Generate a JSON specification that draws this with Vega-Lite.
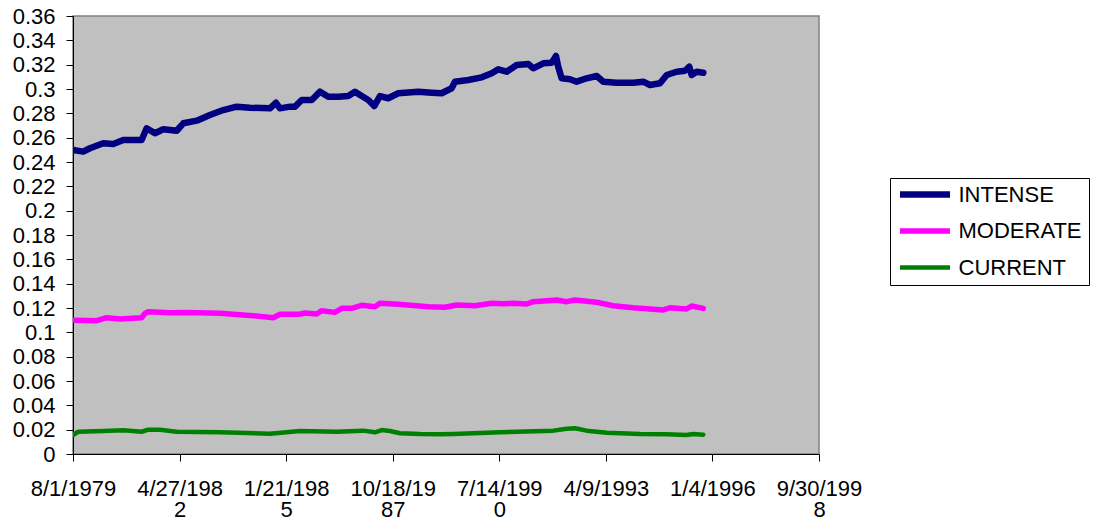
{
  "$schema": "https://vega.github.io/schema/vega-lite/v6.json",
  "autosize": "none",
  "width": 746,
  "height": 438,
  "padding": {"left": 73, "top": 16, "right": 278, "bottom": 75},
  "background": "white",
  "config": {
    "font": "Liberation Sans",
    "view": {"fill": "#C0C0C0", "stroke": "#808080", "strokeWidth": 1.5},
    "axis": {
      "domainColor": "black", "tickColor": "black", "labelColor": "black",
      "labelFont": "Liberation Sans", "labelFontSize": 22, "tickSize": 7,
      "grid": false, "title": null, "domainWidth": 1, "tickWidth": 1
    }
  },
  "data": {"values": [
    {"date": "1979-08-01", "value": 0.250, "series": "INTENSE"},
    {"date": "1979-11-05", "value": 0.2485, "series": "INTENSE"},
    {"date": "1980-01-07", "value": 0.2513, "series": "INTENSE"},
    {"date": "1980-05-11", "value": 0.2554, "series": "INTENSE"},
    {"date": "1980-08-13", "value": 0.2548, "series": "INTENSE"},
    {"date": "1980-11-15", "value": 0.2581, "series": "INTENSE"},
    {"date": "1981-03-20", "value": 0.2581, "series": "INTENSE"},
    {"date": "1981-05-06", "value": 0.2581, "series": "INTENSE"},
    {"date": "1981-06-22", "value": 0.2677, "series": "INTENSE"},
    {"date": "1981-09-08", "value": 0.2636, "series": "INTENSE"},
    {"date": "1981-11-25", "value": 0.2669, "series": "INTENSE"},
    {"date": "1982-03-31", "value": 0.2657, "series": "INTENSE"},
    {"date": "1982-06-01", "value": 0.2718, "series": "INTENSE"},
    {"date": "1982-10-05", "value": 0.2740, "series": "INTENSE"},
    {"date": "1983-02-06", "value": 0.2786, "series": "INTENSE"},
    {"date": "1983-06-11", "value": 0.2827, "series": "INTENSE"},
    {"date": "1983-10-15", "value": 0.2855, "series": "INTENSE"},
    {"date": "1984-02-17", "value": 0.2846, "series": "INTENSE"},
    {"date": "1984-08-22", "value": 0.2841, "series": "INTENSE"},
    {"date": "1984-10-18", "value": 0.2887, "series": "INTENSE"},
    {"date": "1984-11-24", "value": 0.2841, "series": "INTENSE"},
    {"date": "1985-02-26", "value": 0.2855, "series": "INTENSE"},
    {"date": "1985-04-14", "value": 0.2855, "series": "INTENSE"},
    {"date": "1985-06-16", "value": 0.2910, "series": "INTENSE"},
    {"date": "1985-09-18", "value": 0.2910, "series": "INTENSE"},
    {"date": "1985-12-05", "value": 0.2978, "series": "INTENSE"},
    {"date": "1986-02-20", "value": 0.2937, "series": "INTENSE"},
    {"date": "1986-05-25", "value": 0.2937, "series": "INTENSE"},
    {"date": "1986-08-27", "value": 0.2942, "series": "INTENSE"},
    {"date": "1986-10-29", "value": 0.2978, "series": "INTENSE"},
    {"date": "1986-12-31", "value": 0.2942, "series": "INTENSE"},
    {"date": "1987-03-03", "value": 0.2910, "series": "INTENSE"},
    {"date": "1987-04-28", "value": 0.2860, "series": "INTENSE"},
    {"date": "1987-06-20", "value": 0.2942, "series": "INTENSE"},
    {"date": "1987-09-06", "value": 0.2924, "series": "INTENSE"},
    {"date": "1987-12-09", "value": 0.2965, "series": "INTENSE"},
    {"date": "1988-06-14", "value": 0.2978, "series": "INTENSE"},
    {"date": "1988-10-18", "value": 0.2970, "series": "INTENSE"},
    {"date": "1989-01-19", "value": 0.2965, "series": "INTENSE"},
    {"date": "1989-04-23", "value": 0.3006, "series": "INTENSE"},
    {"date": "1989-05-24", "value": 0.3060, "series": "INTENSE"},
    {"date": "1989-09-26", "value": 0.3074, "series": "INTENSE"},
    {"date": "1990-01-30", "value": 0.3096, "series": "INTENSE"},
    {"date": "1990-05-04", "value": 0.3129, "series": "INTENSE"},
    {"date": "1990-07-05", "value": 0.3162, "series": "INTENSE"},
    {"date": "1990-09-21", "value": 0.3142, "series": "INTENSE"},
    {"date": "1990-12-24", "value": 0.3197, "series": "INTENSE"},
    {"date": "1991-04-12", "value": 0.3205, "series": "INTENSE"},
    {"date": "1991-05-29", "value": 0.3170, "series": "INTENSE"},
    {"date": "1991-08-31", "value": 0.3211, "series": "INTENSE"},
    {"date": "1991-11-18", "value": 0.3216, "series": "INTENSE"},
    {"date": "1991-12-28", "value": 0.3271, "series": "INTENSE"},
    {"date": "1992-01-18", "value": 0.3183, "series": "INTENSE"},
    {"date": "1992-02-19", "value": 0.3088, "series": "INTENSE"},
    {"date": "1992-05-08", "value": 0.3080, "series": "INTENSE"},
    {"date": "1992-07-09", "value": 0.3060, "series": "INTENSE"},
    {"date": "1992-10-11", "value": 0.3088, "series": "INTENSE"},
    {"date": "1993-01-13", "value": 0.3107, "series": "INTENSE"},
    {"date": "1993-03-16", "value": 0.3060, "series": "INTENSE"},
    {"date": "1993-07-20", "value": 0.3052, "series": "INTENSE"},
    {"date": "1993-12-22", "value": 0.3052, "series": "INTENSE"},
    {"date": "1994-03-26", "value": 0.3060, "series": "INTENSE"},
    {"date": "1994-05-28", "value": 0.3033, "series": "INTENSE"},
    {"date": "1994-08-30", "value": 0.3047, "series": "INTENSE"},
    {"date": "1994-11-01", "value": 0.3115, "series": "INTENSE"},
    {"date": "1995-02-03", "value": 0.3142, "series": "INTENSE"},
    {"date": "1995-04-22", "value": 0.3150, "series": "INTENSE"},
    {"date": "1995-06-01", "value": 0.3183, "series": "INTENSE"},
    {"date": "1995-06-23", "value": 0.3115, "series": "INTENSE"},
    {"date": "1995-08-09", "value": 0.3142, "series": "INTENSE"},
    {"date": "1995-10-10", "value": 0.3134, "series": "INTENSE"},

    {"date": "1979-08-01", "value": 0.1100, "series": "MODERATE"},
    {"date": "1980-03-10", "value": 0.1096, "series": "MODERATE"},
    {"date": "1980-06-12", "value": 0.1120, "series": "MODERATE"},
    {"date": "1980-10-15", "value": 0.1110, "series": "MODERATE"},
    {"date": "1981-05-06", "value": 0.1120, "series": "MODERATE"},
    {"date": "1981-06-06", "value": 0.1156, "series": "MODERATE"},
    {"date": "1981-07-07", "value": 0.1170, "series": "MODERATE"},
    {"date": "1982-01-27", "value": 0.1161, "series": "MODERATE"},
    {"date": "1982-07-03", "value": 0.1164, "series": "MODERATE"},
    {"date": "1983-05-11", "value": 0.1156, "series": "MODERATE"},
    {"date": "1984-03-19", "value": 0.1137, "series": "MODERATE"},
    {"date": "1984-09-22", "value": 0.1120, "series": "MODERATE"},
    {"date": "1984-11-24", "value": 0.1148, "series": "MODERATE"},
    {"date": "1985-05-15", "value": 0.1148, "series": "MODERATE"},
    {"date": "1985-07-17", "value": 0.1159, "series": "MODERATE"},
    {"date": "1985-11-04", "value": 0.1151, "series": "MODERATE"},
    {"date": "1985-12-20", "value": 0.1178, "series": "MODERATE"},
    {"date": "1986-04-24", "value": 0.1164, "series": "MODERATE"},
    {"date": "1986-06-26", "value": 0.1197, "series": "MODERATE"},
    {"date": "1986-09-28", "value": 0.1197, "series": "MODERATE"},
    {"date": "1986-12-31", "value": 0.1222, "series": "MODERATE"},
    {"date": "1987-05-05", "value": 0.1211, "series": "MODERATE"},
    {"date": "1987-06-20", "value": 0.1239, "series": "MODERATE"},
    {"date": "1987-12-09", "value": 0.1230, "series": "MODERATE"},
    {"date": "1988-09-16", "value": 0.1211, "series": "MODERATE"},
    {"date": "1989-02-19", "value": 0.1206, "series": "MODERATE"},
    {"date": "1989-06-09", "value": 0.1225, "series": "MODERATE"},
    {"date": "1989-11-28", "value": 0.1219, "series": "MODERATE"},
    {"date": "1990-05-04", "value": 0.1239, "series": "MODERATE"},
    {"date": "1990-08-20", "value": 0.1235, "series": "MODERATE"},
    {"date": "1990-11-22", "value": 0.1239, "series": "MODERATE"},
    {"date": "1991-03-28", "value": 0.1233, "series": "MODERATE"},
    {"date": "1991-05-29", "value": 0.1252, "series": "MODERATE"},
    {"date": "1992-01-03", "value": 0.1266, "series": "MODERATE"},
    {"date": "1992-04-06", "value": 0.1252, "series": "MODERATE"},
    {"date": "1992-06-23", "value": 0.1266, "series": "MODERATE"},
    {"date": "1993-01-13", "value": 0.1247, "series": "MODERATE"},
    {"date": "1993-06-18", "value": 0.1219, "series": "MODERATE"},
    {"date": "1993-12-22", "value": 0.1202, "series": "MODERATE"},
    {"date": "1994-05-28", "value": 0.1192, "series": "MODERATE"},
    {"date": "1994-09-30", "value": 0.1184, "series": "MODERATE"},
    {"date": "1994-12-02", "value": 0.1202, "series": "MODERATE"},
    {"date": "1995-05-07", "value": 0.1192, "series": "MODERATE"},
    {"date": "1995-06-23", "value": 0.1216, "series": "MODERATE"},
    {"date": "1995-10-10", "value": 0.1197, "series": "MODERATE"},

    {"date": "1979-08-01", "value": 0.0156, "series": "CURRENT"},
    {"date": "1979-09-19", "value": 0.0183, "series": "CURRENT"},
    {"date": "1980-05-12", "value": 0.0189, "series": "CURRENT"},
    {"date": "1980-11-15", "value": 0.0195, "series": "CURRENT"},
    {"date": "1981-05-06", "value": 0.0183, "series": "CURRENT"},
    {"date": "1981-07-07", "value": 0.0200, "series": "CURRENT"},
    {"date": "1981-10-25", "value": 0.0200, "series": "CURRENT"},
    {"date": "1982-03-31", "value": 0.0183, "series": "CURRENT"},
    {"date": "1983-05-11", "value": 0.0178, "series": "CURRENT"},
    {"date": "1984-08-22", "value": 0.0167, "series": "CURRENT"},
    {"date": "1985-05-31", "value": 0.0189, "series": "CURRENT"},
    {"date": "1986-05-10", "value": 0.0183, "series": "CURRENT"},
    {"date": "1987-01-15", "value": 0.0192, "series": "CURRENT"},
    {"date": "1987-05-05", "value": 0.0178, "series": "CURRENT"},
    {"date": "1987-07-06", "value": 0.0197, "series": "CURRENT"},
    {"date": "1987-09-22", "value": 0.0189, "series": "CURRENT"},
    {"date": "1987-12-25", "value": 0.0170, "series": "CURRENT"},
    {"date": "1988-06-30", "value": 0.0164, "series": "CURRENT"},
    {"date": "1989-01-03", "value": 0.0162, "series": "CURRENT"},
    {"date": "1989-05-08", "value": 0.0164, "series": "CURRENT"},
    {"date": "1990-07-20", "value": 0.0178, "series": "CURRENT"},
    {"date": "1991-12-03", "value": 0.0192, "series": "CURRENT"},
    {"date": "1992-04-06", "value": 0.0208, "series": "CURRENT"},
    {"date": "1992-06-23", "value": 0.0211, "series": "CURRENT"},
    {"date": "1992-10-11", "value": 0.0192, "series": "CURRENT"},
    {"date": "1993-04-17", "value": 0.0175, "series": "CURRENT"},
    {"date": "1994-02-23", "value": 0.0164, "series": "CURRENT"},
    {"date": "1994-11-01", "value": 0.0162, "series": "CURRENT"},
    {"date": "1995-05-07", "value": 0.0156, "series": "CURRENT"},
    {"date": "1995-07-08", "value": 0.0164, "series": "CURRENT"},
    {"date": "1995-10-10", "value": 0.0159, "series": "CURRENT"}
  ]},
  "mark": {"type": "line", "strokeCap": "round", "strokeJoin": "round", "clip": true},
  "encoding": {
    "x": {
      "field": "date", "type": "temporal",
      "scale": {"type": "utc", "domain": [{"year": 1979, "month": 8, "date": 1, "utc": true}, {"year": 1998, "month": 9, "date": 30, "utc": true}], "nice": false},
      "axis": {
        "values": [
          {"year": 1979, "month": 8, "date": 1, "utc": true},
          {"year": 1982, "month": 4, "date": 27, "utc": true},
          {"year": 1985, "month": 1, "date": 21, "utc": true},
          {"year": 1987, "month": 10, "date": 18, "utc": true},
          {"year": 1990, "month": 7, "date": 14, "utc": true},
          {"year": 1993, "month": 4, "date": 9, "utc": true},
          {"year": 1996, "month": 1, "date": 4, "utc": true},
          {"year": 1998, "month": 9, "date": 30, "utc": true}
        ],
        "labelExpr": "length(utcFormat(datum.value,'%-m/%-d/%Y'))>8 ? [substring(utcFormat(datum.value,'%-m/%-d/%Y'),0,8), substring(utcFormat(datum.value,'%-m/%-d/%Y'),8)] : utcFormat(datum.value,'%-m/%-d/%Y')",
        "labelPadding": 17, "labelLineHeight": 21.5, "labelBaseline": "top",
        "labelAlign": "center", "labelOverlap": false, "labelFlush": false
      }
    },
    "y": {
      "field": "value", "type": "quantitative",
      "scale": {"domain": [0, 0.36], "nice": false, "zero": true},
      "axis": {
        "values": [0, 0.02, 0.04, 0.06, 0.08, 0.1, 0.12, 0.14, 0.16, 0.18, 0.2, 0.22, 0.24, 0.26, 0.28, 0.3, 0.32, 0.34, 0.36],
        "labelExpr": "format(datum.value, '.2~f')",
        "labelPadding": 11, "labelOverlap": false, "labelFlush": false
      }
    },
    "color": {
      "field": "series", "type": "nominal",
      "scale": {"domain": ["INTENSE", "MODERATE", "CURRENT"], "range": ["#000080", "#FF00FF", "#008000"]},
      "legend": {
        "title": null, "orient": "none", "legendX": 817, "legendY": 162,
        "symbolType": "stroke", "symbolSize": 2500, "clipHeight": 20, "rowPadding": 14.5,
        "padding": 6.5, "labelOffset": 5, "labelFontSize": 22, "labelFont": "Liberation Sans",
        "labelColor": "black", "fillColor": "white", "strokeColor": "black",
        "labelLimit": 300
      }
    },
    "strokeWidth": {
      "field": "series", "type": "nominal",
      "scale": {"domain": ["INTENSE", "MODERATE", "CURRENT"], "range": [6.5, 4.5, 2]},
      "legend": {
        "title": null, "orient": "none", "legendX": 817, "legendY": 162,
        "symbolType": "stroke", "symbolSize": 2500, "clipHeight": 20, "rowPadding": 14.5,
        "padding": 6.5, "labelOffset": 5, "labelFontSize": 22, "labelFont": "Liberation Sans",
        "labelColor": "black", "fillColor": "white", "strokeColor": "black",
        "labelLimit": 300
      }
    }
  }
}
